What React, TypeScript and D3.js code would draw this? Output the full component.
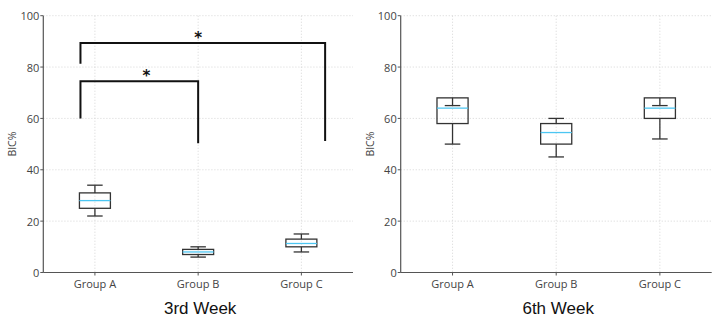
import React from "react";
import * as d3 from "d3";

// Groups along the x axis
const groups = ["Group A", "Group B", "Group C"];
const yTicks = [0, 20, 40, 60, 80, 100];

// Box statistics per group: [lower whisker, Q1, median, Q3, upper whisker]
const week3Stats = [
  [22, 25, 28, 31, 34],
  [6, 7, 8, 9, 10],
  [8, 10, 11.3, 13, 15],
];
const week6Stats = [
  [50, 58, 64, 68, 65],
  [45, 50, 54.5, 58, 60],
  [52, 60, 64, 68, 65],
];

// Significance brackets for week 3: [x start, x end, left foot, top, right foot]
const week3Brackets = [
  [0.86, 2.0, 60, 74.5, 50.3],
  [0.86, 3.23, 81.3, 89.4, 51.2],
];
// Star label positions: [x, y]
const week3Stars = [
  [1.5, 76.5],
  [2.0, 91.3],
];

const panelTitles = ["3rd Week", "6th Week"];
const yLabel = "BIC%";

const W = 719;
const H = 321;

type PanelProps = {
  left: number;
  right: number;
  stats: number[][];
  title: string;
  brackets?: number[][];
  stars?: number[][];
};

function Panel({ left, right, stats, title, brackets = [], stars = [] }: PanelProps) {
  const top = 15.7;
  const bottom = 272.5;
  const x = d3.scaleLinear().domain([0.5, 3.5]).range([left, right]);
  const y = d3.scaleLinear().domain([0, 100]).range([bottom, top]);
  const boxHalf = 0.15;
  const capHalf = 0.075;
  const tickColor = "#444";
  const font = "'Open Sans', 'DejaVu Sans', sans-serif";

  return (
    <g>
      {/* grid */}
      {yTicks.map((t) => (
        <line
          key={"gy" + t}
          x1={left}
          x2={right}
          y1={y(t)}
          y2={y(t)}
          stroke="#d4d4d4"
          strokeWidth={0.8}
          strokeDasharray="1.2,1.8"
        />
      ))}
      {groups.map((g, i) => (
        <line
          key={"gx" + g}
          x1={x(i + 1)}
          x2={x(i + 1)}
          y1={top}
          y2={bottom}
          stroke="#d4d4d4"
          strokeWidth={0.8}
          strokeDasharray="1.2,1.8"
        />
      ))}

      {/* boxes */}
      {stats.map((s, i) => {
        const cx = x(i + 1);
        const [lo, q1, med, q3, hi] = s;
        const bw = x(1 + boxHalf) - x(1);
        const cw = x(1 + capHalf) - x(1);
        return (
          <g key={"box" + i} stroke="#333" strokeWidth={1.3} fill="none">
            <line x1={cx} x2={cx} y1={y(q1)} y2={y(lo)} />
            <line x1={cx} x2={cx} y1={y(q3)} y2={y(hi)} />
            <line x1={cx - cw} x2={cx + cw} y1={y(lo)} y2={y(lo)} />
            <line x1={cx - cw} x2={cx + cw} y1={y(hi)} y2={y(hi)} />
            <rect x={cx - bw} y={y(q3)} width={2 * bw} height={y(q1) - y(q3)} />
            <line
              x1={cx - bw}
              x2={cx + bw}
              y1={y(med)}
              y2={y(med)}
              stroke="#4cc6f2"
              strokeWidth={1.3}
            />
          </g>
        );
      })}

      {/* significance brackets */}
      {brackets.map((b, i) => {
        const [xa, xb, y1, yt, y2] = b;
        const path = d3.path();
        path.moveTo(x(xa), y(y1));
        path.lineTo(x(xa), y(yt));
        path.lineTo(x(xb), y(yt));
        path.lineTo(x(xb), y(y2));
        return (
          <path key={"br" + i} d={path.toString()} fill="none" stroke="#111" strokeWidth={2} />
        );
      })}
      {stars.map((s, i) => (
        <text
          key={"st" + i}
          x={x(s[0])}
          y={y(s[1])}
          textAnchor="middle"
          dominantBaseline="middle"
          fontFamily="'DejaVu Sans', sans-serif"
          fontSize={15}
          fontWeight="bold"
          fill="#111"
        >
          *
        </text>
      ))}

      {/* axes */}
      <line x1={left} x2={left} y1={top} y2={bottom} stroke="#555" strokeWidth={1.2} />
      <line x1={left} x2={right} y1={bottom} y2={bottom} stroke="#555" strokeWidth={1.2} />
      {yTicks.map((t) => (
        <g key={"yt" + t}>
          <line x1={left - 3} x2={left} y1={y(t)} y2={y(t)} stroke="#555" strokeWidth={1} />
          <text
            x={left - 4}
            y={y(t)}
            textAnchor="end"
            dominantBaseline="central"
            fontFamily={font}
            fontSize={11}
            fill={tickColor}
          >
            {t}
          </text>
        </g>
      ))}
      {groups.map((g, i) => (
        <g key={"xt" + g}>
          <line x1={x(i + 1)} x2={x(i + 1)} y1={bottom} y2={bottom + 3} stroke="#555" strokeWidth={1} />
          <text
            x={x(i + 1)}
            y={bottom + 15}
            textAnchor="middle"
            fontFamily={font}
            fontSize={11}
            fill={tickColor}
          >
            {g}
          </text>
        </g>
      ))}
      <text
        transform={`translate(${left - 31},${(top + bottom) / 2}) rotate(-90)`}
        textAnchor="middle"
        dominantBaseline="central"
        fontFamily={font}
        fontSize={10.5}
        fill={tickColor}
      >
        {yLabel}
      </text>
      <text
        x={(left + right) / 2 + 2}
        y={314}
        textAnchor="middle"
        fontFamily="'Liberation Sans', Arial, sans-serif"
        fontSize={17}
        fill="#111"
      >
        {title}
      </text>
    </g>
  );
}

export default function App() {
  return (
    <svg
      width={W}
      height={H}
      style={{ position: "absolute", left: 0, top: 0, background: "#fff" }}
    >
      <Panel
        left={43.3}
        right={353}
        stats={week3Stats}
        title={panelTitles[0]}
        brackets={week3Brackets}
        stars={week3Stars}
      />
      <Panel left={400.7} right={711.7} stats={week6Stats} title={panelTitles[1]} />
    </svg>
  );
}
